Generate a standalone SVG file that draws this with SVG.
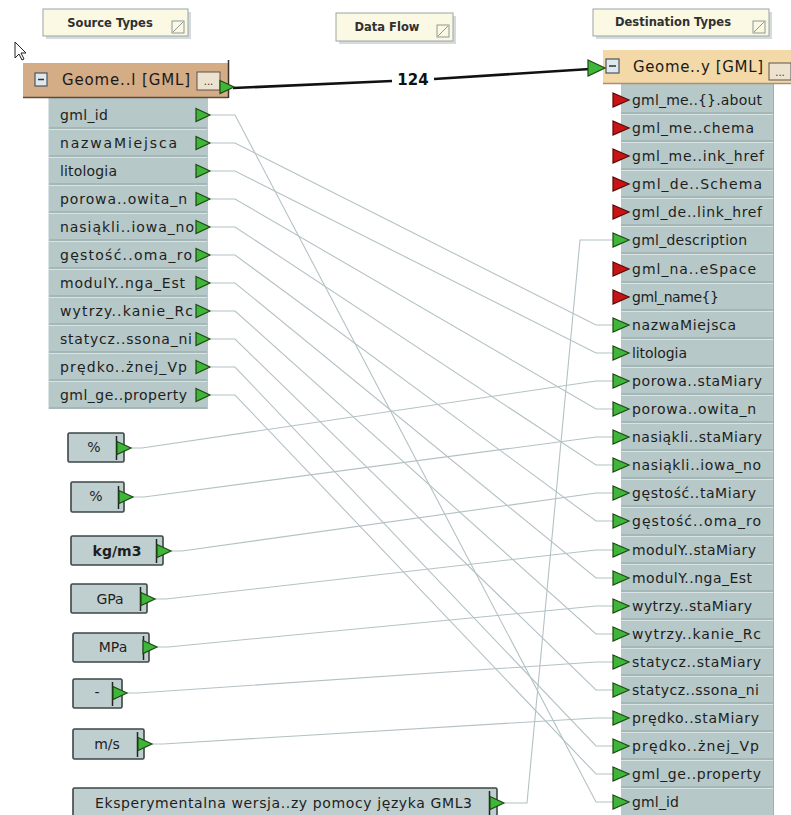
<svg xmlns="http://www.w3.org/2000/svg" xmlns:xlink="http://www.w3.org/1999/xlink" width="791" height="815" viewBox="0 0 791 815">
<style>
.t{font-family:"DejaVu Sans","Liberation Sans",sans-serif;font-size:14px;fill:#1e1e1e}
.hdr{font-family:"DejaVu Sans","Liberation Sans",sans-serif;font-size:11.5px;font-weight:bold;fill:#303030}
.ht{font-family:"DejaVu Sans","Liberation Sans",sans-serif;font-size:15px;fill:#1a1a1a}
.lab{fill:#fbf8e3;stroke:#9aa6a6;stroke-width:1}
.sh{fill:#d5dada}
.row{fill:#b6c8c8}
.sepd{stroke:#93a6a6;stroke-width:1}
.sepl{stroke:#d9e3e3;stroke-width:1}
.cbox{fill:#bfcfcf;stroke:#3d4545;stroke-width:1.6}
.c{fill:none;stroke:#b4c2c5;stroke-width:1.1}
.flow{fill:none;stroke:#111;stroke-width:2.6}
.mini{fill:#dfe8ef;stroke:#4a5560;stroke-width:1.2}
.btn{fill:#ece2cf;stroke:#5a5550;stroke-width:1}
</style>
<defs>
<path id="gp" d="M0,-6.5 L14,0 L0,6.5 Z" fill="#3fb53a" stroke="#1c4a12" stroke-width="1.2"/>
<path id="gd" d="M0,-7 L16,0 L0,7 Z" fill="#3fb53a" stroke="#1c4a12" stroke-width="1.2"/>
<path id="rd" d="M0,-7 L16,0 L0,7 Z" fill="#c71414" stroke="#5a0808" stroke-width="1.2"/>
<g id="ico"><rect x="0" y="0" width="12" height="12" fill="none" stroke="#8d9a9a" stroke-width="1"/><line x1="1" y1="11" x2="11" y2="1" stroke="#8d9a9a" stroke-width="1"/></g>
</defs>
<rect width="791" height="815" fill="#ffffff"/>

<!-- header labels -->
<g id="lbl-source">
<rect class="sh" x="46" y="12" width="145" height="27"/>
<rect class="lab" x="43" y="9" width="145" height="27"/>
<text class="hdr" x="110" y="27" text-anchor="middle">Source Types</text>
<use xlink:href="#ico" x="172" y="21"/>
</g>
<g id="lbl-dataflow">
<rect class="sh" x="339" y="16" width="117" height="28"/>
<rect class="lab" x="336" y="13" width="117" height="28"/>
<text class="hdr" x="387" y="31" text-anchor="middle">Data Flow</text>
<use xlink:href="#ico" x="437" y="25"/>
</g>
<g id="lbl-dest">
<rect class="sh" x="596" y="12" width="176" height="27"/>
<rect class="lab" x="593" y="9" width="176" height="27"/>
<text class="hdr" x="673" y="26" text-anchor="middle">Destination Types</text>
<use xlink:href="#ico" x="753" y="21"/>
</g>

<!-- cursor -->
<polygon points="15,42 15,58 19,54 22,60 24,59 21,53 26,53" fill="#fff" stroke="#222" stroke-width="1"/>

<!-- connectors -->
<g id="connectors">
<path class="c" d="M211,115 L235,115 L596,802 L613,802"/>
<path class="c" d="M211,143 L235,143 L596,325 L613,325"/>
<path class="c" d="M211,171 L235,171 L596,353 L613,353"/>
<path class="c" d="M211,199 L235,199 L596,409 L613,409"/>
<path class="c" d="M211,227 L235,227 L596,465 L613,465"/>
<path class="c" d="M211,255 L235,255 L596,521 L613,521"/>
<path class="c" d="M211,283 L235,283 L596,578 L613,578"/>
<path class="c" d="M211,311 L235,311 L596,634 L613,634"/>
<path class="c" d="M211,339 L235,339 L596,690 L613,690"/>
<path class="c" d="M211,367 L235,367 L596,746 L613,746"/>
<path class="c" d="M211,395 L235,395 L596,774 L613,774"/>
<path class="c" d="M131,448 L142,448 L596,381 L613,381"/>
<path class="c" d="M133,497 L144,497 L596,437 L613,437"/>
<path class="c" d="M171,551 L182,551 L596,493 L613,493"/>
<path class="c" d="M155,599 L166,599 L596,550 L613,550"/>
<path class="c" d="M157,647 L168,647 L596,606 L613,606"/>
<path class="c" d="M127,693 L138,693 L596,662 L613,662"/>
<path class="c" d="M152,744 L163,744 L596,718 L613,718"/>
<path class="c" d="M505,803 L527,803 L580,240 L613,240"/>
<path class="flow" d="M233,88 L392,81"/>
<path class="flow" d="M434,79 L590,69"/>
<text x="413" y="85" text-anchor="middle" font-family="DejaVu Sans, Liberation Sans, sans-serif" font-size="15" font-weight="bold" fill="#111">124</text>
</g>

<!-- source node -->
<g id="source-node">
<rect x="48" y="97" width="160" height="312" class="row"/>
<line x1="48.5" y1="97" x2="48.5" y2="409" stroke="#dbe4e4"/>
<g>
<line class="sepd" x1="49" y1="128" x2="207" y2="128"/><line class="sepl" x1="49" y1="129.5" x2="207" y2="129.5"/>
<line class="sepd" x1="49" y1="156" x2="207" y2="156"/><line class="sepl" x1="49" y1="157.5" x2="207" y2="157.5"/>
<line class="sepd" x1="49" y1="184" x2="207" y2="184"/><line class="sepl" x1="49" y1="185.5" x2="207" y2="185.5"/>
<line class="sepd" x1="49" y1="212" x2="207" y2="212"/><line class="sepl" x1="49" y1="213.5" x2="207" y2="213.5"/>
<line class="sepd" x1="49" y1="240" x2="207" y2="240"/><line class="sepl" x1="49" y1="241.5" x2="207" y2="241.5"/>
<line class="sepd" x1="49" y1="268" x2="207" y2="268"/><line class="sepl" x1="49" y1="269.5" x2="207" y2="269.5"/>
<line class="sepd" x1="49" y1="296" x2="207" y2="296"/><line class="sepl" x1="49" y1="297.5" x2="207" y2="297.5"/>
<line class="sepd" x1="49" y1="324" x2="207" y2="324"/><line class="sepl" x1="49" y1="325.5" x2="207" y2="325.5"/>
<line class="sepd" x1="49" y1="352" x2="207" y2="352"/><line class="sepl" x1="49" y1="353.5" x2="207" y2="353.5"/>
<line class="sepd" x1="49" y1="380" x2="207" y2="380"/><line class="sepl" x1="49" y1="381.5" x2="207" y2="381.5"/>
<line class="sepd" x1="49" y1="408" x2="207" y2="408"/>
</g>
<rect x="23" y="63" width="205" height="34" fill="#d4ad86"/>
<line x1="23" y1="97.5" x2="228" y2="97.5" stroke="#5d4a38" stroke-width="1.5"/>
<line x1="228.5" y1="60" x2="228.5" y2="98" stroke="#3a3028" stroke-width="1.5"/>
<rect class="mini" x="35" y="73" width="12" height="13"/>
<line x1="38" y1="79.5" x2="44" y2="79.5" stroke="#333" stroke-width="1.5"/>
<text class="ht" x="62" y="85" textLength="128" lengthAdjust="spacing">Geome..l [GML]</text>
<rect class="btn" x="197" y="72" width="23" height="18"/>
<text x="208.5" y="85" text-anchor="middle" font-family="DejaVu Sans, sans-serif" font-size="10" fill="#333">...</text>
<use xlink:href="#gp" x="220" y="87"/>
<text class="t" x="60" y="120" textLength="48" lengthAdjust="spacing">gml_id</text>
<text class="t" x="60" y="148" textLength="117" lengthAdjust="spacing">nazwaMiejsca</text>
<text class="t" x="60" y="176" textLength="57" lengthAdjust="spacing">litologia</text>
<text class="t" x="60" y="204" textLength="127" lengthAdjust="spacing">porowa..owita_n</text>
<text class="t" x="60" y="232" textLength="134" lengthAdjust="spacing">nasiąkli..iowa_no</text>
<text class="t" x="60" y="260" textLength="132" lengthAdjust="spacing">gęstość..oma_ro</text>
<text class="t" x="60" y="288" textLength="125" lengthAdjust="spacing">modulY..nga_Est</text>
<text class="t" x="60" y="316" textLength="133" lengthAdjust="spacing">wytrzy..kanie_Rc</text>
<text class="t" x="60" y="344" textLength="132" lengthAdjust="spacing">statycz..ssona_ni</text>
<text class="t" x="60" y="372" textLength="127" lengthAdjust="spacing">prędko..żnej_Vp</text>
<text class="t" x="60" y="400" textLength="127" lengthAdjust="spacing">gml_ge..property</text>
<use xlink:href="#gp" x="196" y="115"/>
<use xlink:href="#gp" x="196" y="143"/>
<use xlink:href="#gp" x="196" y="171"/>
<use xlink:href="#gp" x="196" y="199"/>
<use xlink:href="#gp" x="196" y="227"/>
<use xlink:href="#gp" x="196" y="255"/>
<use xlink:href="#gp" x="196" y="283"/>
<use xlink:href="#gp" x="196" y="311"/>
<use xlink:href="#gp" x="196" y="339"/>
<use xlink:href="#gp" x="196" y="367"/>
<use xlink:href="#gp" x="196" y="395"/>
</g>

<!-- destination node -->
<g id="dest-node">
<rect x="621" y="83" width="152" height="732" class="row"/>
<g>
<line class="sepd" x1="621" y1="113" x2="773" y2="113"/><line class="sepl" x1="621" y1="114.5" x2="773" y2="114.5"/>
<line class="sepd" x1="621" y1="141" x2="773" y2="141"/><line class="sepl" x1="621" y1="142.5" x2="773" y2="142.5"/>
<line class="sepd" x1="621" y1="169" x2="773" y2="169"/><line class="sepl" x1="621" y1="170.5" x2="773" y2="170.5"/>
<line class="sepd" x1="621" y1="197" x2="773" y2="197"/><line class="sepl" x1="621" y1="198.5" x2="773" y2="198.5"/>
<line class="sepd" x1="621" y1="225" x2="773" y2="225"/><line class="sepl" x1="621" y1="226.5" x2="773" y2="226.5"/>
<line class="sepd" x1="621" y1="253" x2="773" y2="253"/><line class="sepl" x1="621" y1="254.5" x2="773" y2="254.5"/>
<line class="sepd" x1="621" y1="282" x2="773" y2="282"/><line class="sepl" x1="621" y1="283.5" x2="773" y2="283.5"/>
<line class="sepd" x1="621" y1="310" x2="773" y2="310"/><line class="sepl" x1="621" y1="311.5" x2="773" y2="311.5"/>
<line class="sepd" x1="621" y1="338" x2="773" y2="338"/><line class="sepl" x1="621" y1="339.5" x2="773" y2="339.5"/>
<line class="sepd" x1="621" y1="366" x2="773" y2="366"/><line class="sepl" x1="621" y1="367.5" x2="773" y2="367.5"/>
<line class="sepd" x1="621" y1="394" x2="773" y2="394"/><line class="sepl" x1="621" y1="395.5" x2="773" y2="395.5"/>
<line class="sepd" x1="621" y1="422" x2="773" y2="422"/><line class="sepl" x1="621" y1="423.5" x2="773" y2="423.5"/>
<line class="sepd" x1="621" y1="450" x2="773" y2="450"/><line class="sepl" x1="621" y1="451.5" x2="773" y2="451.5"/>
<line class="sepd" x1="621" y1="478" x2="773" y2="478"/><line class="sepl" x1="621" y1="479.5" x2="773" y2="479.5"/>
<line class="sepd" x1="621" y1="506" x2="773" y2="506"/><line class="sepl" x1="621" y1="507.5" x2="773" y2="507.5"/>
<line class="sepd" x1="621" y1="535" x2="773" y2="535"/><line class="sepl" x1="621" y1="536.5" x2="773" y2="536.5"/>
<line class="sepd" x1="621" y1="563" x2="773" y2="563"/><line class="sepl" x1="621" y1="564.5" x2="773" y2="564.5"/>
<line class="sepd" x1="621" y1="591" x2="773" y2="591"/><line class="sepl" x1="621" y1="592.5" x2="773" y2="592.5"/>
<line class="sepd" x1="621" y1="619" x2="773" y2="619"/><line class="sepl" x1="621" y1="620.5" x2="773" y2="620.5"/>
<line class="sepd" x1="621" y1="647" x2="773" y2="647"/><line class="sepl" x1="621" y1="648.5" x2="773" y2="648.5"/>
<line class="sepd" x1="621" y1="675" x2="773" y2="675"/><line class="sepl" x1="621" y1="676.5" x2="773" y2="676.5"/>
<line class="sepd" x1="621" y1="703" x2="773" y2="703"/><line class="sepl" x1="621" y1="704.5" x2="773" y2="704.5"/>
<line class="sepd" x1="621" y1="731" x2="773" y2="731"/><line class="sepl" x1="621" y1="732.5" x2="773" y2="732.5"/>
<line class="sepd" x1="621" y1="759" x2="773" y2="759"/><line class="sepl" x1="621" y1="760.5" x2="773" y2="760.5"/>
<line class="sepd" x1="621" y1="787" x2="773" y2="787"/><line class="sepl" x1="621" y1="788.5" x2="773" y2="788.5"/>
</g>
<line x1="773.5" y1="83" x2="773.5" y2="815" stroke="#9fb0b0"/>
<rect x="603" y="50" width="188" height="33" fill="#f3d9a8"/>
<line x1="603" y1="83.5" x2="791" y2="83.5" stroke="#a89070" stroke-width="1.5"/>
<rect class="mini" x="606" y="59" width="13" height="14"/>
<line x1="609" y1="66" x2="616" y2="66" stroke="#333" stroke-width="1.5"/>
<text class="ht" x="633" y="72" textLength="130" lengthAdjust="spacing">Geome..y [GML]</text>
<rect class="btn" x="769" y="63" width="22" height="17"/>
<text x="780" y="76" text-anchor="middle" font-family="DejaVu Sans, sans-serif" font-size="10" fill="#333">...</text>
<path d="M588,60 L605,68 L588,76 Z" fill="#3fb53a" stroke="#1c4a12" stroke-width="1.2"/>
<text class="t" x="632" y="105" textLength="130" lengthAdjust="spacing">gml_me..{}.about</text>
<text class="t" x="632" y="133" textLength="122" lengthAdjust="spacing">gml_me..chema</text>
<text class="t" x="632" y="161" textLength="132" lengthAdjust="spacing">gml_me..ink_href</text>
<text class="t" x="632" y="189" textLength="130" lengthAdjust="spacing">gml_de..Schema</text>
<text class="t" x="632" y="217" textLength="130" lengthAdjust="spacing">gml_de..link_href</text>
<text class="t" x="632" y="245" textLength="115" lengthAdjust="spacing">gml_description</text>
<text class="t" x="632" y="274" textLength="124" lengthAdjust="spacing">gml_na..eSpace</text>
<text class="t" x="632" y="302" textLength="87" lengthAdjust="spacing">gml_name{}</text>
<text class="t" x="632" y="330" textLength="104" lengthAdjust="spacing">nazwaMiejsca</text>
<text class="t" x="632" y="358" textLength="55" lengthAdjust="spacing">litologia</text>
<text class="t" x="632" y="386" textLength="130" lengthAdjust="spacing">porowa..staMiary</text>
<text class="t" x="632" y="414" textLength="124" lengthAdjust="spacing">porowa..owita_n</text>
<text class="t" x="632" y="442" textLength="130" lengthAdjust="spacing">nasiąkli..staMiary</text>
<text class="t" x="632" y="470" textLength="129" lengthAdjust="spacing">nasiąkli..iowa_no</text>
<text class="t" x="632" y="498" textLength="124" lengthAdjust="spacing">gęstość..taMiary</text>
<text class="t" x="632" y="526" textLength="129" lengthAdjust="spacing">gęstość..oma_ro</text>
<text class="t" x="632" y="555" textLength="124" lengthAdjust="spacing" font-size="12.5">modulY..staMiary</text>
<text class="t" x="632" y="583" textLength="120" lengthAdjust="spacing">modulY..nga_Est</text>
<text class="t" x="632" y="611" textLength="120" lengthAdjust="spacing">wytrzy..staMiary</text>
<text class="t" x="632" y="639" textLength="129" lengthAdjust="spacing">wytrzy..kanie_Rc</text>
<text class="t" x="632" y="667" textLength="129" lengthAdjust="spacing">statycz..staMiary</text>
<text class="t" x="632" y="695" textLength="127" lengthAdjust="spacing">statycz..ssona_ni</text>
<text class="t" x="632" y="723" textLength="127" lengthAdjust="spacing">prędko..staMiary</text>
<text class="t" x="632" y="751" textLength="127" lengthAdjust="spacing">prędko..żnej_Vp</text>
<text class="t" x="632" y="779" textLength="129" lengthAdjust="spacing">gml_ge..property</text>
<text class="t" x="632" y="807" textLength="47" lengthAdjust="spacing">gml_id</text>
<use xlink:href="#rd" x="613" y="100"/>
<use xlink:href="#rd" x="613" y="128"/>
<use xlink:href="#rd" x="613" y="156"/>
<use xlink:href="#rd" x="613" y="184"/>
<use xlink:href="#rd" x="613" y="212"/>
<use xlink:href="#gd" x="613" y="240"/>
<use xlink:href="#rd" x="613" y="269"/>
<use xlink:href="#rd" x="613" y="297"/>
<use xlink:href="#gd" x="613" y="325"/>
<use xlink:href="#gd" x="613" y="353"/>
<use xlink:href="#gd" x="613" y="381"/>
<use xlink:href="#gd" x="613" y="409"/>
<use xlink:href="#gd" x="613" y="437"/>
<use xlink:href="#gd" x="613" y="465"/>
<use xlink:href="#gd" x="613" y="493"/>
<use xlink:href="#gd" x="613" y="521"/>
<use xlink:href="#gd" x="613" y="550"/>
<use xlink:href="#gd" x="613" y="578"/>
<use xlink:href="#gd" x="613" y="606"/>
<use xlink:href="#gd" x="613" y="634"/>
<use xlink:href="#gd" x="613" y="662"/>
<use xlink:href="#gd" x="613" y="690"/>
<use xlink:href="#gd" x="613" y="718"/>
<use xlink:href="#gd" x="613" y="746"/>
<use xlink:href="#gd" x="613" y="774"/>
<use xlink:href="#gd" x="613" y="802"/>
</g>

<!-- constants -->
<g id="const-pct1">
<rect class="cbox" x="68" y="433" width="56" height="29" rx="1.5"/>
<line x1="116.5" y1="436" x2="116.5" y2="460" stroke="#222" stroke-width="1.5"/>
<text class="t" x="94" y="452" text-anchor="middle" font-size="11">%</text>
<use xlink:href="#gp" x="117" y="448"/>
</g>
<g id="const-pct2">
<rect class="cbox" x="71" y="482" width="53" height="30" rx="1.5"/>
<line x1="118.5" y1="486" x2="118.5" y2="509" stroke="#222" stroke-width="1.5"/>
<text class="t" x="96" y="501" text-anchor="middle" font-size="11">%</text>
<use xlink:href="#gp" x="119" y="497"/>
</g>
<g id="const-kgm3">
<rect class="cbox" x="71" y="536" width="92" height="29" rx="1.5"/>
<line x1="156.5" y1="539" x2="156.5" y2="563" stroke="#222" stroke-width="1.5"/>
<text class="t" x="117" y="556" text-anchor="middle" font-weight="bold" font-size="13">kg/m3</text>
<use xlink:href="#gp" x="157" y="551"/>
</g>
<g id="const-gpa">
<rect class="cbox" x="71" y="584" width="76" height="29" rx="1.5"/>
<line x1="140.5" y1="587" x2="140.5" y2="611" stroke="#222" stroke-width="1.5"/>
<text class="t" x="110" y="604" text-anchor="middle">GPa</text>
<use xlink:href="#gp" x="141" y="599"/>
</g>
<g id="const-mpa">
<rect class="cbox" x="73" y="633" width="76" height="29" rx="1.5"/>
<line x1="143.5" y1="636" x2="143.5" y2="660" stroke="#222" stroke-width="1.5"/>
<text class="t" x="113" y="652" text-anchor="middle">MPa</text>
<use xlink:href="#gp" x="143" y="647"/>
</g>
<g id="const-dash">
<rect class="cbox" x="73" y="679" width="49" height="29" rx="1.5"/>
<line x1="112.5" y1="682" x2="112.5" y2="706" stroke="#222" stroke-width="1.5"/>
<text class="t" x="97" y="697" text-anchor="middle">-</text>
<use xlink:href="#gp" x="113" y="693"/>
</g>
<g id="const-ms">
<rect class="cbox" x="73" y="729" width="71" height="30" rx="1.5"/>
<line x1="137.5" y1="732" x2="137.5" y2="757" stroke="#222" stroke-width="1.5"/>
<text class="t" x="107" y="749" text-anchor="middle">m/s</text>
<use xlink:href="#gp" x="138" y="744"/>
</g>
<g id="const-desc">
<rect class="cbox" x="73" y="788" width="424" height="30" rx="1.5"/>
<line x1="489.5" y1="791" x2="489.5" y2="815" stroke="#222" stroke-width="1.5"/>
<text class="t" x="95" y="808" font-size="15" textLength="377" lengthAdjust="spacing">Eksperymentalna wersja..zy pomocy języka GML3</text>
<use xlink:href="#gp" x="490" y="803"/>
</g>
</svg>
